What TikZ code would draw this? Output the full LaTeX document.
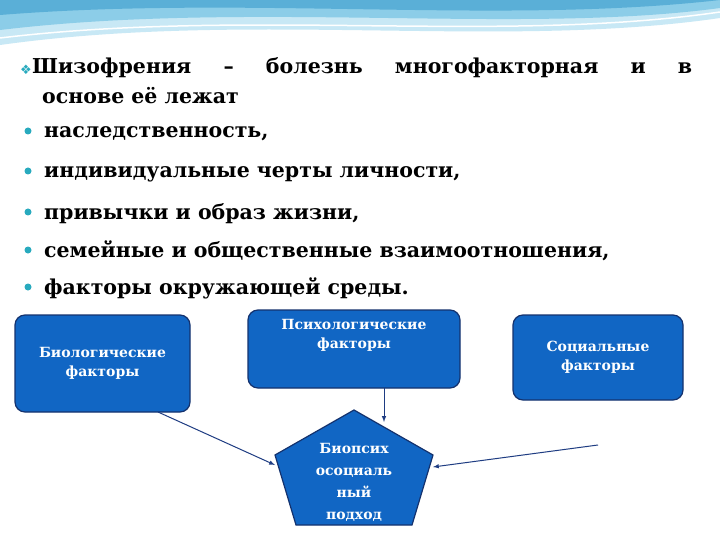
\documentclass[tikz,border=0pt]{standalone}
\usepackage{fontspec}
\setmainfont{DejaVu Serif}
\newfontfamily\dejavu{DejaVu Sans}
\definecolor{wA}{RGB}{200,232,245}
\definecolor{wB}{RGB}{140,205,232}
\definecolor{wC}{RGB}{90,175,215}
\definecolor{boxblue}{RGB}{17,102,196}
\definecolor{boxedge}{RGB}{20,50,110}
\definecolor{arrc}{RGB}{30,60,130}
\definecolor{teal}{RGB}{40,170,190}
\begin{document}
\begin{tikzpicture}[x=1pt,y=-1pt,
  fbox/.style={draw=boxedge,line width=1.2pt,fill=boxblue,rounded corners=10pt,text=white,font=\bfseries\fontsize{14}{19}\selectfont,align=center},
  arr/.style={draw=arrc,line width=1pt,-latex},
  bul/.style={fill=teal,circle,inner sep=0pt,minimum size=7pt},
  txt/.style={anchor=base west,inner sep=0pt,font=\bfseries\fontsize{20.5}{30}\selectfont}]
\useasboundingbox (0,0) rectangle (720,540);
\fill[white] (0,0) rectangle (720,540);
\fill[wA] (0,0) -- (720,0) -- (720,18) .. controls (500,50) and (250,10) .. (0,45) -- cycle;
\fill[wB] (0,0) -- (720,0) -- (720,8) .. controls (520,35) and (250,0) .. (0,30) -- cycle;
\fill[wC] (0,0) -- (720,0) .. controls (500,25) and (250,-5) .. (0,15) -- cycle;
\draw[white,line width=1.5pt] (0,38) .. controls (250,8) and (500,44) .. (720,12);
\node[anchor=base west,inner sep=0pt,text=teal,font=\dejavu\fontsize{13}{13}\selectfont] (d) at (20,75) {❖};
\node[txt,text width=660pt,align=justify,anchor=north west] (l1) at (32,57) {Шизофрения – болезнь многофакторная и в\linebreak \hspace*{10pt}основе её лежат};
\foreach \y/\t [count=\i] in {138/{наследственность,},178/{индивидуальные черты личности,},219/{привычки и образ жизни,},257/{семейные и общественные взаимоотношения,},294/{факторы окружающей среды.}}{
  \node[bul] (b\i) at (28,\y-7) {};
  \node[txt] (t\i) at (44,\y) {\t};
}
\node[fbox,minimum width=175pt,minimum height=97pt] (bio) at (102.5,363.5) {Биологические\\факторы};
\node[fbox,minimum width=212pt,minimum height=78pt] (psy) at (354,349) {Психологические\\факторы\\[12pt]};
\node[fbox,minimum width=170pt,minimum height=85pt] (soc) at (598,357.5) {Социальные\\факторы};
\fill[boxblue,draw=boxedge,line width=1.2pt] (354,410) -- (433,455) -- (412,525) -- (296,525) -- (275,455) -- cycle;
\node[text=white,font=\bfseries\fontsize{14}{22}\selectfont,align=center] (pen) at (354,482) {Биопсих\\осоциаль\\ный\\подход};
\coordinate (pl) at (275,465);
\coordinate (pr) at (433,467);
\coordinate (pt) at (384,422);
\draw[arr] (158,412) -- (pl);
\draw[arr] (384,388) -- (pt);
\draw[arr] (598,445) -- (pr);
\end{tikzpicture}
\end{document}
